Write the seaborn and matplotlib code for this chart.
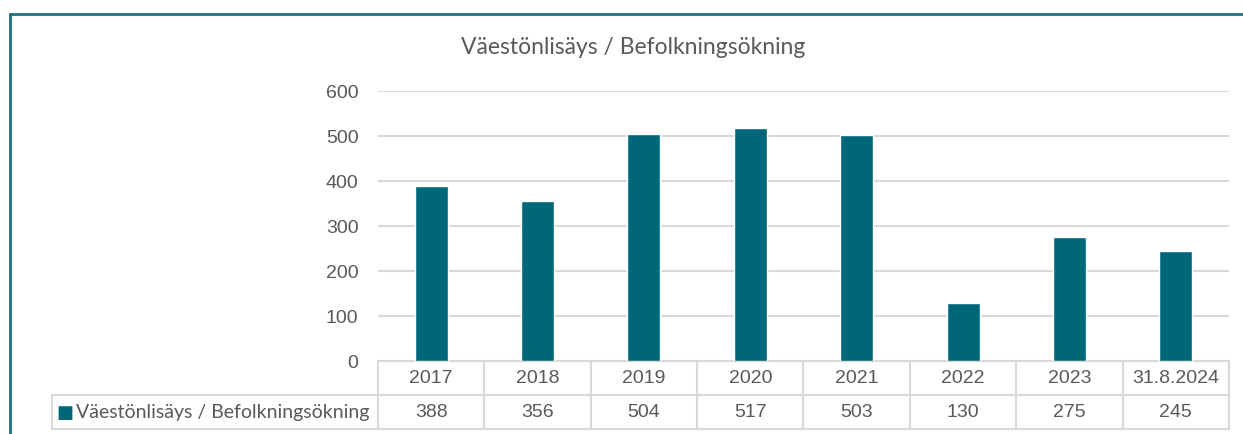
import matplotlib
matplotlib.use("Agg")
import matplotlib.pyplot as plt
from matplotlib.lines import Line2D
import seaborn as sns
import pandas as pd

# data
years = ["2017", "2018", "2019", "2020", "2021", "2022", "2023", "31.8.2024"]
growth = [388, 356, 504, 517, 503, 130, 275, 245]
series_name = "Väestönlisäys / Befolkningsökning"
title = "Väestönlisäys / Befolkningsökning"

bar_color = "#00677a"
text_gray = "#595959"
line_gray = "#d9d9d9"

sns.set_theme(style="white")
plt.rcParams["font.family"] = ["Liberation Sans", "DejaVu Sans"]

W, H = 1243, 435
fig = plt.figure(figsize=(W / 100, H / 100), dpi=100)
# plot area in pixels: x 378..1229, y 92..362
ax = fig.add_axes([378 / W, 1 - 362 / H, (1229 - 378) / W, (362 - 92) / H])

df = pd.DataFrame({"year": years, "value": growth})
sns.barplot(data=df, x="year", y="value", color=bar_color, width=0.31,
            saturation=1, ax=ax, zorder=3)

ax.set_ylim(0, 600)
ax.set_yticks(range(0, 601, 100))
ax.yaxis.grid(True, color=line_gray, linewidth=1.5, zorder=0)
ax.set_xlim(-0.5, len(years) - 0.5)
ax.set_xticks([])
ax.set_xlabel("")
ax.set_ylabel("")
for s in ax.spines.values():
    s.set_visible(False)
ax.tick_params(axis="y", length=0, pad=14, labelsize=14, labelcolor=text_gray)

# data table below the plot
lab_w = (378 - 52) / (1229 - 378)
row_h = 34 / (362 - 92)
cell_text = [[""] + years, [""] + [str(v) for v in growth]]
tbl = ax.table(cellText=cell_text, colWidths=[lab_w] + [1 / len(years)] * len(years),
               bbox=[-lab_w, -2 * row_h, 1 + lab_w, 2 * row_h], cellLoc="center")
tbl.auto_set_font_size(False)
for (r, c), cell in tbl.get_celld().items():
    cell.set_edgecolor(line_gray)
    cell.set_linewidth(1.5)
    cell.get_text().set_fontsize(14)
    cell.get_text().set_color(text_gray)
tbl[0, 0].visible_edges = ""

# legend key and series name in the first column
ax.text(-lab_w + 4 / 851, -1.5 * row_h, "■", transform=ax.transAxes, color=bar_color,
        fontsize=13, va="center", ha="left", family=["DejaVu Sans"])
ax.text(-lab_w + 24 / 851, -1.5 * row_h, series_name, transform=ax.transAxes,
        color=text_gray, fontsize=14.0, va="center", ha="left", family=["Lato", "DejaVu Sans"])

fig.text(633 / W, 1 - 47 / H, title, ha="center", va="center", fontsize=16.5,
         color=text_gray, family=["Lato", "DejaVu Sans"])

# chart frame (top and left edges visible)
frame = "#1a7282"
fig.add_artist(Line2D([10 / W, 1], [1 - 15 / H, 1 - 15 / H], transform=fig.transFigure,
                      color=frame, linewidth=2))
fig.add_artist(Line2D([10 / W, 10 / W], [1 - 15 / H, 0], transform=fig.transFigure,
                      color=frame, linewidth=2))

fig.savefig("out.png", dpi=100, facecolor="white")
